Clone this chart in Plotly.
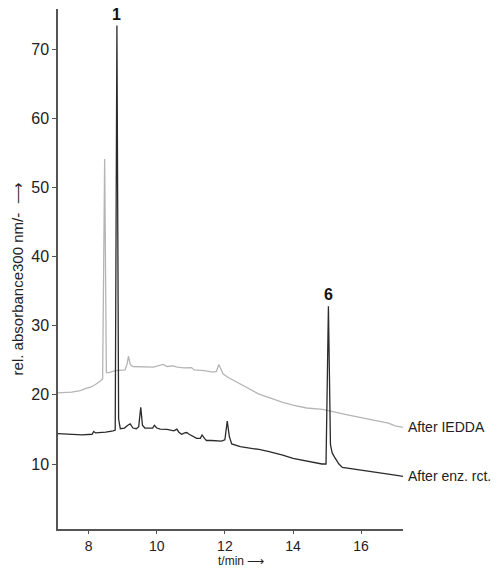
import plotly.graph_objects as go

# After enzymatic reaction (dark trace)
t_enz = [7.1, 7.5, 7.8, 8.1, 8.15, 8.2, 8.3, 8.5, 8.72, 8.78, 8.83, 8.88, 8.93, 9.05, 9.15, 9.22, 9.3, 9.4,
         9.47, 9.53, 9.58, 9.65, 9.8, 9.88, 9.93, 10.0, 10.1, 10.3, 10.5, 10.59, 10.65, 10.73, 10.82, 10.88,
         10.95, 11.02, 11.17, 11.28, 11.33, 11.4, 11.46, 11.6, 11.75, 11.9, 12.0, 12.07, 12.13, 12.2, 12.45,
         12.74, 13.0, 13.3, 13.5, 13.7, 14.0, 14.3, 14.6, 14.85, 14.97, 15.04, 15.1, 15.15, 15.22, 15.35,
         15.45, 15.7, 16.0, 16.2, 16.46, 16.7, 17.0, 17.23]
a_enz = [14.4, 14.3, 14.2, 14.3, 14.7, 14.5, 14.5, 14.6, 14.8, 14.9, 73.4, 16.5, 15.1, 15.2, 15.6, 15.8, 15.2, 15.1,
         15.4, 18.2, 15.6, 15.2, 15.2, 15.2, 15.6, 15.2, 15.05, 15.0, 14.8, 15.05, 14.6, 14.3, 14.5, 14.55,
         14.3, 14.1, 13.7, 13.7, 14.2, 13.7, 13.4, 13.4, 13.4, 13.3, 13.5, 16.2, 14.0, 12.9, 12.5,
         12.3, 12.1, 11.8, 11.6, 11.3, 10.8, 10.5, 10.3, 10.0, 10.0, 32.8, 12.8, 11.6, 11.0, 10.0,
         9.5, 9.3, 9.1, 9.0, 8.8, 8.6, 8.4, 8.2]

# After IEDDA (light trace)
t_iedda = [7.1, 7.5, 7.76, 7.9, 8.05, 8.2, 8.34, 8.41, 8.47, 8.52, 8.6, 8.78, 9.07, 9.13, 9.17, 9.22, 9.3, 9.6,
           9.9, 10.19, 10.3, 10.48, 10.6, 10.8, 11.02, 11.1, 11.4, 11.65, 11.75, 11.82, 11.9, 11.95, 12.1,
           12.44, 12.73, 13.0, 13.3, 13.7, 14.0, 14.4, 14.87, 15.2, 15.6, 16.0, 16.46, 16.8, 17.0, 17.23]
a_iedda = [20.3, 20.4, 20.6, 20.9, 21.1, 21.5, 22.0, 22.3, 54.1, 23.2, 23.2, 23.5, 23.6, 24.5, 25.6, 24.4, 24.1, 24.1,
           24.0, 24.4, 24.1, 24.2, 24.0, 23.9, 23.95, 23.6, 23.5, 23.3, 23.4, 24.4, 23.6, 23.0, 22.5,
           21.6, 20.8, 20.1, 19.6, 18.9, 18.5, 18.1, 17.9, 17.5, 17.1, 16.7, 16.3, 15.9, 15.5, 15.3]

x_ticks = [8, 10, 12, 14, 16]
y_ticks = [10, 20, 30, 40, 50, 60, 70]
peak_labels = ["1", "6"]
peak_pos = [(8.83, 73.4), (15.04, 32.8)]
trace_names = ["After IEDDA", "After enz. rct."]

fig = go.Figure()
fig.add_trace(go.Scatter(x=t_iedda, y=a_iedda, mode="lines", line=dict(color="#b5b5b5", width=1.3),
                         name=trace_names[0], showlegend=False))
fig.add_trace(go.Scatter(x=t_enz, y=a_enz, mode="lines", line=dict(color="#2b2b2b", width=1.3),
                         name=trace_names[1], showlegend=False))

font = "Liberation Sans, Arial, sans-serif"
ann = []
for lab, (px, py) in zip(peak_labels, peak_pos):
    ann.append(dict(x=px, y=py, xref="x", yref="y", text="<b>%s</b>" % lab, showarrow=False,
                    yanchor="bottom", yshift=1, font=dict(family=font, size=16, color="#111")))
ann.append(dict(x=17.23, y=a_iedda[-1], xref="x", yref="y", text=trace_names[0], showarrow=False,
                xanchor="left", xshift=3, font=dict(family=font, size=14, color="#222")))
ann.append(dict(x=17.23, y=a_enz[-1], xref="x", yref="y", text=trace_names[1], showarrow=False,
                xanchor="left", xshift=3, font=dict(family=font, size=14, color="#222")))
ann.append(dict(x=0, y=0.48, xref="paper", yref="paper", text="rel. absorbance300 nm/-  \u27f6",
                showarrow=False, textangle=-90, xanchor="center", yanchor="middle", xshift=-41,
                font=dict(family=font, size=15, color="#222")))
ann.append(dict(x=0.53, y=0, xref="paper", yref="paper", text="t/min \u27f6",
                showarrow=False, xanchor="center", yanchor="middle", yshift=-32,
                font=dict(family=font, size=12, color="#222")))

fig.update_layout(
    width=497, height=568,
    margin=dict(l=58, r=94, t=9, b=39),
    paper_bgcolor="white", plot_bgcolor="white",
    annotations=ann,
    xaxis=dict(range=[7.1, 17.23], tickvals=x_ticks, showgrid=False, zeroline=False,
               showline=True, linecolor="#555", linewidth=1.5, ticks="outside", ticklen=3,
               tickcolor="#555", ticklabelstandoff=0, tickfont=dict(family=font, size=14, color="#222")),
    yaxis=dict(range=[0.6, 75.8], tickvals=y_ticks, showgrid=False, zeroline=False,
               showline=True, linecolor="#555", linewidth=1.5, ticks="outside", ticklen=4,
               tickcolor="#555", tickfont=dict(family=font, size=16, color="#222")),
)

fig.write_html("out.html")
